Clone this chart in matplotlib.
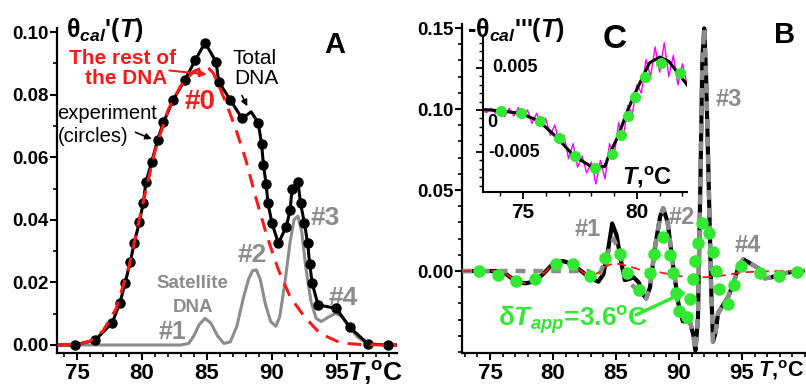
import matplotlib.pyplot as plt
from matplotlib.ticker import MultipleLocator, FormatStrFormatter

plt.rcParams['font.family'] = ['Liberation Sans', 'DejaVu Sans']
plt.rcParams['font.weight'] = 'bold'
plt.rcParams['mathtext.fontset'] = 'custom'
plt.rcParams['mathtext.rm'] = 'Liberation Sans:bold'
plt.rcParams['mathtext.it'] = 'Liberation Sans:italic:bold'
plt.rcParams['mathtext.bf'] = 'Liberation Sans:bold'

# ---- panel A: theta_cal'(T) ----
# experiment (circles)
T_exp = [74.85, 76.4, 77.7, 78.3, 78.7, 79.1, 79.4, 79.8, 80.1, 80.3, 80.75, 81.2, 81.65,
         82.4, 83.3, 84.1, 84.85, 85.7, 85.9, 86.8, 87.7, 88.95, 89.2, 89.35, 89.55, 89.7,
         90.0, 90.5, 91.1, 91.4, 91.55, 92.0, 92.2, 92.5, 92.75, 92.9, 93.1, 93.55, 94.95,
         96.0, 97.4, 98.95]
v_exp = [0.0, 0.0016, 0.007, 0.0134, 0.0198, 0.0265, 0.0326, 0.0393, 0.0454, 0.052, 0.0585,
         0.0655, 0.0711, 0.0783, 0.0847, 0.091, 0.0966, 0.0905, 0.0841, 0.0783, 0.0724, 0.071,
         0.0642, 0.0575, 0.0514, 0.0453, 0.0389, 0.0325, 0.0378, 0.0431, 0.05, 0.0522, 0.0453,
         0.0389, 0.0325, 0.026, 0.0197, 0.0128, 0.0117, 0.0056, 0.0003, 0.0]

# total DNA line
T_tot = [73.5] + T_exp[:21] + [88.4] + T_exp[21:] + [99.6]
v_tot = [0.0] + v_exp[:21] + [0.0745] + v_exp[21:] + [0.0]

# the rest of the DNA (#0)
T_rest = [73.5, 75.0, 76.0, 77.0, 78.0, 79.0, 80.0, 81.0, 82.0, 83.0, 84.0, 85.0, 85.5, 86.0,
          86.6, 87.3, 88.0, 88.7, 89.6, 90.5, 91.4, 92.5, 93.7, 95.0, 96.0, 97.0, 99.6]
v_rest = [0.0, 0.0002, 0.0012, 0.0045, 0.0115, 0.025, 0.044, 0.062, 0.075, 0.083, 0.0875,
          0.089, 0.0868, 0.082, 0.076, 0.068, 0.059, 0.048, 0.035, 0.024, 0.0154, 0.009,
          0.0037, 0.0012, 0.0004, 0.0001, 0.0]

# satellite DNA
T_sat = [73.5, 83.0, 83.6, 84.0, 84.4, 84.85, 85.3, 85.8, 86.3, 86.8, 87.3, 87.8, 88.2, 88.5,
         88.8, 89.1, 89.5, 89.9, 90.3, 90.6, 91.0, 91.4, 91.7, 92.0, 92.3, 92.6, 93.0, 93.4,
         93.8, 94.3, 94.9, 95.4, 96.0, 96.6, 97.2, 97.8, 99.6]
v_sat = [0.0, 0.0, 0.0005, 0.003, 0.0065, 0.0085, 0.007, 0.003, 0.0005, 0.001, 0.006, 0.015,
         0.021, 0.0237, 0.024, 0.021, 0.013, 0.0075, 0.006, 0.009, 0.02, 0.033, 0.04, 0.0412,
         0.036, 0.025, 0.014, 0.0085, 0.0075, 0.0088, 0.0101, 0.009, 0.0055, 0.0025, 0.0008,
         0.0002, 0.0]

# ---- panel B: -theta_cal'''(T) ----
T_b = [72.8, 75.5, 76.3, 77.1, 77.8, 78.5, 79.2, 80.0, 80.8, 81.6, 82.4, 83.0, 83.6, 84.0,
       84.35, 84.7, 85.05, 85.4, 85.7, 86.0, 86.4, 86.8, 87.1, 87.4, 87.7, 88.1, 88.5, 88.75,
       89.1, 89.5, 89.95, 90.3, 90.6, 90.9, 91.15, 91.3, 91.5, 91.7, 91.85, 92.0, 92.15,
       92.35, 92.55, 92.7, 92.9, 93.1, 93.5, 93.9, 94.3, 94.7, 95.1, 95.6, 96.3, 96.8, 97.3,
       98.0, 99.3, 100.0]
v_b = [0.0, 0.0, -0.002, -0.0065, -0.0076, -0.0065, -0.002, 0.0045, 0.0062, 0.004, -0.001,
       -0.0045, -0.0066, -0.002, 0.012, 0.0294, 0.022, 0.006, -0.0056, -0.005, -0.0039,
       -0.007, -0.014, -0.0169, -0.01, 0.015, 0.0335, 0.0387, 0.03, 0.005, -0.02, -0.031,
       -0.031, -0.032, -0.04, -0.049, -0.03, 0.056, 0.13, 0.1498, 0.12, 0.056, -0.01, -0.0436,
       -0.038, -0.026, -0.021, -0.0159, -0.008, 0.002, 0.0072, 0.005, 0.0017, -0.0045, -0.004,
       -0.002, 0.0, 0.0]

# satellites only (gray dashed)
T_bs = [72.8, 82.8, 83.6, 84.2, 84.8, 85.3, 85.8, 86.4, 87.4] + T_b[24:]
v_bs = [0.0, 0.0, -0.0045, 0.008, 0.02, 0.012, -0.004, -0.0097, -0.0169] + v_b[24:]

# rest of the DNA (red dashed)
T_br = [72.8, 75.5, 76.3, 77.1, 77.8, 78.5, 79.2, 80.0, 80.8, 81.6, 82.4, 83.0, 83.6, 84.2,
        84.8, 85.5, 86.2, 86.9, 87.7, 88.5, 89.5, 90.4, 91.3, 92.1, 92.9, 93.7, 94.5, 95.3,
        96.1, 97.0, 98.0, 100.0]
v_br = [0.0, 0.0, -0.002, -0.0065, -0.0076, -0.0065, -0.002, 0.0045, 0.0062, 0.004, -0.001,
        -0.003, -0.001, 0.003, 0.0047, 0.004, 0.0025, 0.0008, 0.0004, -0.0008, -0.0025,
        -0.0035, -0.0039, -0.0038, -0.0034, -0.0025, -0.0014, -0.0007, -0.0004, -0.0002,
        0.0, 0.0]

# apparent (broadened) curve, dT_app = 3.6 C
T_app = [74.1, 75.6, 77.1, 78.6, 80.2, 81.6, 82.9, 84.1, 85.3, 85.9, 86.8, 87.7, 88.0, 88.75,
         89.3, 89.55, 89.8, 90.0, 90.6, 90.9, 91.1, 91.3, 91.5, 91.8, 92.4, 92.7, 92.9, 93.2,
         93.9, 94.4, 94.9, 96.4, 97.97, 99.4]
v_app = [0.0, -0.0025, -0.0062, -0.0051, 0.0043, 0.0043, -0.003, 0.0078, 0.0105, -0.001,
         -0.0117, -0.001, 0.0105, 0.0212, 0.0099, -0.001, -0.0138, -0.0247, -0.0286, -0.017,
         -0.0051, 0.0062, 0.0175, 0.0294, 0.0233, 0.0119, 0.0002, -0.0113, -0.0204, -0.0086,
         0.0031, -0.001, -0.003, -0.0004]

# ---- inset C ----
T_c = [73.1, 74.0, 74.9, 75.7, 76.5, 77.25, 78.1, 78.6, 78.8, 79.2, 79.5, 79.85, 80.25, 80.55,
       81.0, 81.4, 81.8, 82.2]
v_c = [0.0001, -0.0001, -0.0004, -0.0013, -0.0033, -0.0055, -0.0069, -0.0067, -0.0052, -0.003,
       -0.0007, 0.0016, 0.0039, 0.0056, 0.0063, 0.0058, 0.0044, 0.003]
T_cn = [73.2, 73.4, 73.6, 73.8, 74.0, 74.2, 74.4, 74.6, 74.8, 75.0, 75.2, 75.4, 75.6, 75.8,
        76.0, 76.2, 76.4, 76.6, 76.8, 77.0, 77.2, 77.4, 77.6, 77.8, 78.0, 78.2, 78.4, 78.6,
        78.8, 79.0, 79.2, 79.4, 79.6, 79.8, 80.0, 80.2, 80.4, 80.6, 80.8, 81.0, 81.2, 81.4,
        81.6, 81.8, 82.0, 82.2]
v_cn = [0.0, -0.0003, 0.0002, -0.0004, 0.0001, -0.0008, 0.0002, -0.0007, 0.0003, -0.001, 0.0,
        -0.0016, -0.0004, -0.0018, -0.001, -0.003, -0.0018, -0.004, -0.003, -0.0058, -0.004,
        -0.0068, -0.0055, -0.0075, -0.0062, -0.0088, -0.006, -0.0082, -0.004, -0.0055, -0.0015,
        -0.0035, 0.0005, -0.0005, 0.003, 0.002, 0.006, 0.004, 0.0075, 0.0045, 0.008, 0.004,
        0.0065, 0.003, 0.0055, 0.003]
T_cd = [74.04, 74.9, 75.75, 76.6, 77.3, 78.15, 78.9, 79.3, 79.6, 79.9, 80.35, 81.05, 81.9]
v_cd = [-0.0001, -0.0004, -0.0013, -0.0033, -0.0055, -0.0069, -0.0052, -0.003, -0.0007, 0.0016,
        0.0039, 0.0056, 0.0044]

GRAY = '#8c8c8c'
RED = '#ff1a1a'
GREEN = '#33e833'

fig = plt.figure(figsize=(8.06, 3.86), dpi=100)


def style(ax):
    for s in ['top', 'right']:
        ax.spines[s].set_visible(False)
    for s in ['left', 'bottom']:
        ax.spines[s].set_linewidth(1.6)
    ax.tick_params(which='major', direction='out', length=5, width=1.5)
    ax.tick_params(which='minor', direction='out', length=3, width=1.2)
    ax.tick_params(axis='y', labelsize=13.5, pad=1)
    ax.tick_params(axis='x', labelsize=16, pad=2)
    ax.set_xticks([75, 80, 85, 90, 95])
    ax.xaxis.set_minor_locator(MultipleLocator(1))


# ---------- A ----------
axA = fig.add_axes([0.0707, 0.0855, 0.4218, 0.842])
style(axA)
axA.plot(T_sat, v_sat, color=GRAY, lw=2.2, zorder=2)
axA.plot(T_tot, v_tot, color='black', lw=2.2, zorder=3)
axA.plot(T_exp, v_exp, 'o', color='black', ms=6.5, zorder=4)
axA.plot(T_rest, v_rest, color=RED, lw=2.2, dashes=(4.5, 3), zorder=5)
axA.set_xlim(73.46, 99.62)
axA.set_ylim(-0.00256, 0.1013)
axA.yaxis.set_major_locator(MultipleLocator(0.02))
axA.yaxis.set_minor_locator(MultipleLocator(0.01))
axA.yaxis.set_major_formatter(FormatStrFormatter('%.2f'))

axA.text(74.15, 0.1006, r"$\mathrm{\theta}_{cal}$'($T$)", fontsize=18, va='center', ha='left')
axA.text(94.85, 0.0958, 'A', fontsize=21, ha='center', va='center')
axA.text(78.5, 0.0915, 'The rest of', color=RED, fontsize=15, ha='center', va='center')
axA.text(78.8, 0.0853, 'the DNA', color=RED, fontsize=15, ha='center', va='center')
axA.annotate('', xy=(85.2, 0.0864), xytext=(81.9, 0.0878),
             arrowprops=dict(arrowstyle='-|>', color=RED, lw=1.5, mutation_scale=10))
axA.text(84.46, 0.0777, '#0', color=RED, fontsize=20, ha='center', va='center')
axA.text(88.7, 0.0914, 'Total', fontsize=15, fontweight='normal', ha='center', va='center')
axA.text(88.8, 0.0850, 'DNA', fontsize=15, fontweight='normal', ha='center', va='center')
axA.annotate('', xy=(88.2, 0.0755), xytext=(87.6, 0.0805),
             arrowprops=dict(arrowstyle='-|>', color='black', lw=1.2, mutation_scale=9))
axA.text(73.5, 0.0741, 'experiment', fontsize=14.5, fontweight='normal', ha='left', va='center')
axA.text(73.5, 0.0665, '(circles)', fontsize=14.5, fontweight='normal', ha='left', va='center')
axA.annotate('', xy=(80.95, 0.0655), xytext=(79.3, 0.0683),
             arrowprops=dict(arrowstyle='-|>', color='black', lw=1.2, mutation_scale=9))
axA.text(83.92, 0.0198, 'Satellite', color=GRAY, fontsize=13.5, ha='center', va='center')
axA.text(83.92, 0.0121, 'DNA', color=GRAY, fontsize=13.5, ha='center', va='center')
axA.text(82.38, 0.0042, '#1', color=GRAY, fontsize=18, ha='center', va='center')
axA.text(88.46, 0.0288, '#2', color=GRAY, fontsize=19, ha='center', va='center')
axA.text(94.08, 0.0406, '#3', color=GRAY, fontsize=19, ha='center', va='center')
axA.text(95.46, 0.0150, '#4', color=GRAY, fontsize=19, ha='center', va='center')
fig.text(0.4305, 0.034, r'$T$,$^{\mathrm{o}}$C', fontsize=19, ha='left', va='center')

# ---------- B ----------
axB = fig.add_axes([0.5732, 0.0855, 0.4256, 0.8523])
style(axB)
axB.plot(T_b, v_b, color='black', lw=3.0, zorder=3)
axB.plot(T_bs, v_bs, color=GRAY, lw=3.2, dashes=(2.2, 1.8), zorder=4)
axB.plot(T_br, v_br, color=RED, lw=1.3, dashes=(5, 3), zorder=5)
axB.plot(T_app, v_app, 'o', color=GREEN, ms=8, zorder=6)
axB.set_xlim(72.78, 100.0)
axB.set_ylim(-0.0506, 0.1525)
axB.set_yticks([0.0, 0.05, 0.10, 0.15])
axB.yaxis.set_minor_locator(MultipleLocator(0.01))
axB.yaxis.set_major_formatter(FormatStrFormatter('%.2f'))

axB.text(73.17, 0.1488, r"-$\mathrm{\theta}_{cal}$'''($T$)", fontsize=18, va='center', ha='left')
axB.text(84.92, 0.1432, 'C', fontsize=24, ha='center', va='center')
axB.text(98.4, 0.1457, 'B', fontsize=21, ha='center', va='center')
axB.text(93.97, 0.1056, '#3', color=GRAY, fontsize=17, ha='center', va='center')
axB.text(82.78, 0.0259, '#1', color=GRAY, fontsize=17, ha='center', va='center')
axB.text(90.24, 0.0333, '#2', color=GRAY, fontsize=17, ha='center', va='center')
axB.text(95.48, 0.0160, '#4', color=GRAY, fontsize=17, ha='center', va='center')
axB.text(75.63, -0.0346, r'$\mathrm{\delta}T_{app}$=3.6$^{\mathrm{o}}$C', color=GREEN,
         fontsize=19, ha='left', va='baseline', zorder=7)
axB.annotate('', xy=(90.8, -0.0118), xytext=(86.4, -0.0278),
             arrowprops=dict(arrowstyle='-|>', color=GREEN, lw=2.5, mutation_scale=16), zorder=7)
fig.text(0.941, 0.041, r'$T$,$^{\mathrm{o}}$C', fontsize=15.5, ha='left', va='center')

# ---------- inset C ----------
axC = fig.add_axes([0.5993, 0.5026, 0.2531, 0.4016])
axC.set_facecolor('none')
for s in ['top', 'right']:
    axC.spines[s].set_visible(False)
for s in ['left', 'bottom']:
    axC.spines[s].set_linewidth(1.5)
axC.plot(T_cn, v_cn, color='#ff00ff', lw=1.0, zorder=2)
axC.plot(T_c, v_c, color='black', lw=2.2, zorder=3)
axC.plot(T_cd, v_cd, 'o', color=GREEN, ms=7, zorder=4)
axC.set_xlim(73.25, 82.2)
axC.set_ylim(-0.00976, 0.00869)
axC.xaxis.set_major_locator(MultipleLocator(5))
axC.xaxis.set_minor_locator(MultipleLocator(1))
axC.yaxis.set_major_locator(MultipleLocator(0.005))
axC.yaxis.set_minor_locator(MultipleLocator(0.001))
axC.tick_params(which='major', direction='out', length=5, width=1.3)
axC.tick_params(which='minor', direction='out', length=3, width=1.0)
axC.tick_params(axis='y', labelleft=False)
axC.tick_params(axis='x', labelsize=15, pad=3)
axC.text(73.64, 0.005, '0.005', fontsize=13, ha='left', va='center')
axC.text(73.42, -0.0015, '0', fontsize=13, ha='left', va='center')
axC.text(73.46, -0.005, '-0.005', fontsize=13, ha='left', va='center')
axC.text(79.34, -0.0080, r'$T$,$^{\mathrm{o}}$C', fontsize=17, ha='left', va='center')

fig.savefig('out.png', dpi=100)
